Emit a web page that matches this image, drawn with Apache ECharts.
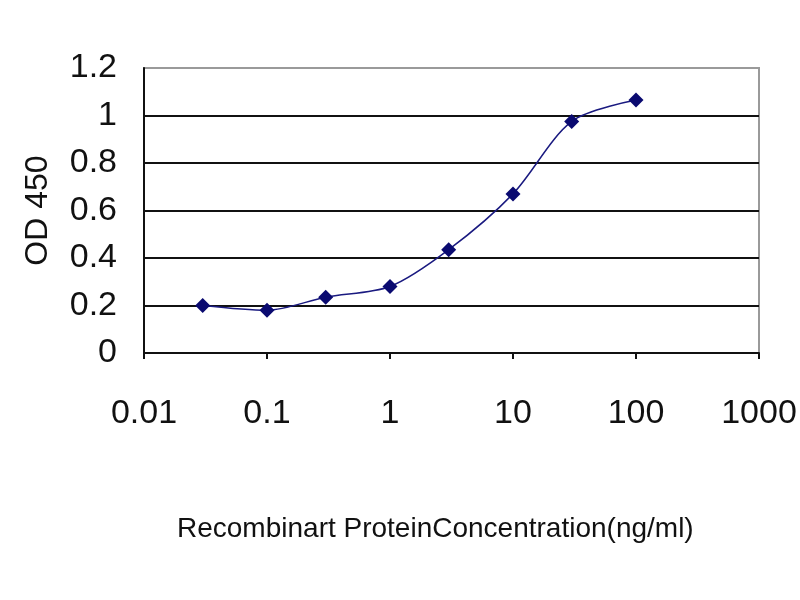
<!DOCTYPE html>
<html>
<head>
<meta charset="utf-8">
<script src="https://cdn.jsdelivr.net/npm/echarts@6/dist/echarts.min.js"></script>
<style>html,body{margin:0;padding:0;background:#fff}#c{width:800px;height:600px}</style>
</head>
<body>
<div id="c"></div>
<script>
var concentrations = [0.03, 0.1, 0.3, 1, 3, 10, 30, 100];
var odValues = [0.20, 0.18, 0.235, 0.28, 0.435, 0.67, 0.975, 1.065];
var yTicks = [0, 0.2, 0.4, 0.6, 0.8, 1, 1.2];
var xTitle = 'Recombinart ProteinConcentration(ng/ml)';
var yTitle = 'OD 450';

var chart = echarts.init(document.getElementById('c'));
var font = 'Liberation Sans, Arial, sans-serif';
chart.setOption({
  animation: false,
  backgroundColor: '#fff',
  title: {
    text: xTitle,
    left: 172, top: 510,
    textStyle: {fontSize: 28, fontWeight: 'normal', color: '#111', fontFamily: font}
  },
  grid: {
    left: 144, right: 41, top: 68, bottom: 247,
    show: true, backgroundColor: '#fff', borderColor: '#9a9a9a', borderWidth: 2
  },
  xAxis: {
    type: 'log', logBase: 10, min: 0.01, max: 1000,
    axisLine: {show: true, onZero: false, lineStyle: {color: '#111', width: 2}},
    axisTick: {show: true, length: 6, inside: false, lineStyle: {color: '#111', width: 2}},
    axisLabel: {fontSize: 34, color: '#111', fontFamily: font, margin: 44,
      formatter: function (v) { return String(+v.toPrecision(6)); }},
    splitLine: {show: false},
    minorTick: {show: false}
  },
  yAxis: {
    type: 'value', min: 0, max: 1.2, interval: 0.2,
    name: yTitle, nameLocation: 'middle', nameGap: 90,
    nameTextStyle: {fontSize: 32, color: '#111', fontFamily: font},
    axisLine: {show: true, lineStyle: {color: '#111', width: 2}},
    axisTick: {show: false},
    axisLabel: {fontSize: 34, color: '#111', fontFamily: font, margin: 27,
      formatter: function (v) {
        for (var i = 0; i < yTicks.length; i++) if (Math.abs(yTicks[i] - v) < 1e-9) return String(yTicks[i]);
        return '';
      }},
    splitLine: {show: true, lineStyle: {color: ['#111', '#111', '#111', '#111', '#111', '#111', '#9a9a9a'], width: 2}}
  },
  series: [{
    type: 'line',
    data: concentrations.map(function (c, i) { return [c, odValues[i]]; }),
    smooth: 0.3,
    symbol: 'diamond', symbolSize: 15,
    lineStyle: {color: '#1a1a80', width: 1.5},
    itemStyle: {color: '#0a0a70'}
  }]
});
</script>
</body>
</html>
